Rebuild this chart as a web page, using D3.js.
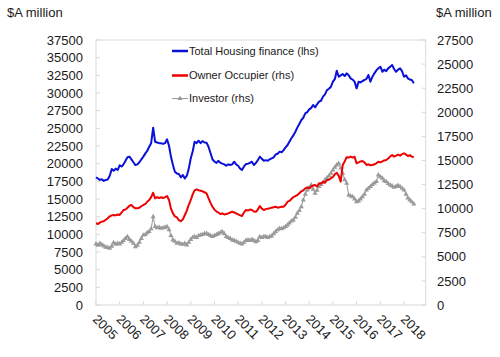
<!DOCTYPE html>
<html><head><meta charset="utf-8">
<script src="https://cdn.jsdelivr.net/npm/d3@7"></script>
<style>
html,body{margin:0;padding:0;background:#fff;}
svg{display:block;font-family:"Liberation Sans",Arial,sans-serif;}
</style></head>
<body><svg id="c" width="500" height="357"></svg>
<script>
// Monthly data, Jan 2005 onward ($A million)
const startMonth = "2005-01";
const totalHousing = [
18070,17900,17700,17800,17550,17700,17750,18300,19240,19000,19300,19100,
19770,19600,19900,20400,20900,21000,20600,20200,19800,19900,20200,20600,
21000,21460,21800,22400,22900,25090,23100,23000,22900,22880,22800,22900,
23450,22500,21000,19800,18860,18600,18540,18070,18400,17900,18300,19300,
20760,21800,23110,22900,23250,22900,23200,23000,22970,22400,21500,20620,
20300,20100,20400,20140,20000,19900,19700,19900,19810,19900,20280,19900,
19700,19300,19100,19600,19950,20000,20100,20280,19810,20100,20500,20990,
20700,20420,20500,20400,20620,20760,20900,21300,21400,21700,21600,21930,
22300,22640,23100,23600,24000,24520,25100,25600,26180,26500,27120,27300,
27690,27900,28300,27970,28400,28770,28900,29480,29800,30420,30600,30890,
31600,32000,33150,32300,32500,32690,32400,32780,32500,32070,31900,31600,
30660,31600,31500,31700,31840,32000,32550,31600,32300,32780,33200,33500,
33720,33010,33300,33100,33490,33700,33960,33400,33000,33300,33490,33100,
32300,32500,32070,31900,31840,31370];
const ownerOccupier = [
8480,8400,8550,8650,8700,8850,9000,9200,9300,9340,9300,9400,
9340,9600,9860,9900,10100,10300,10380,10150,10030,10050,10100,10250,
10380,10500,10700,10900,11200,11650,11070,11200,11100,11180,11100,11200,
11310,10900,10000,9510,9200,9100,8800,8700,8890,9340,9800,10400,
10900,11500,11900,12000,11900,11860,11800,11700,11590,11100,10600,10200,
9900,9700,9600,9440,9500,9400,9440,9500,9600,9680,9600,9500,
9400,9300,9240,9600,9860,9800,9900,9860,9700,9680,9900,10270,
10000,9860,9950,10000,10030,10100,10150,10200,10100,10150,10200,10200,
10400,10720,10800,11000,11200,11300,11410,11600,11800,11900,12100,12210,
12100,12300,12400,12450,12300,12630,12600,12800,12700,12970,13000,13150,
13300,13590,13730,13400,12800,14530,14900,15330,15300,15400,15300,15390,
14700,14800,14900,14940,14800,14530,14600,14500,14530,14600,14700,14870,
14800,14900,15000,15050,15200,15400,15570,15400,15500,15600,15500,15650,
15740,15600,15460,15550,15400,15330];
const investor = [
6330,6200,6400,6250,6120,6000,5950,5880,6100,6470,6300,6400,
6330,6500,6700,6900,7090,6800,6600,6400,6050,6200,6500,6900,
7260,7300,7500,7610,7900,9160,8130,8000,8050,7960,8000,8050,
8130,7800,7200,6750,6600,6400,6450,6330,6300,6400,6230,6500,
6800,7020,7100,7000,7200,7260,7300,7400,7440,7300,7200,7100,
7200,7300,7400,7500,7610,7400,7100,7000,6900,6750,6700,6600,
6500,6400,6330,6500,6700,6750,6700,6800,6700,6570,6700,7090,
7000,7100,7090,7000,7100,7160,7400,7600,7800,7960,7900,8000,
8130,8300,8500,8700,8820,9100,9510,9800,10200,10900,11500,11930,
12200,12450,12000,11590,11900,12280,12500,12700,12970,13200,13400,13670,
14000,14300,14530,14700,14200,13670,13000,12630,11410,11300,11240,11000,
10720,10800,11000,11240,11500,11930,12100,12280,12500,12650,12800,13490,
13300,13150,12900,12800,12600,12450,12350,12210,12300,12400,12280,12100,
11930,11500,11100,10900,10700,10480];
const yearLabels = ["2005","2006","2007","2008","2009","2010","2011","2012","2013","2014","2015","2016","2017","2018"];
const leftTicks = [0,2500,5000,7500,10000,12500,15000,17500,20000,22500,25000,27500,30000,32500,35000,37500];
const rightTicks = [0,2500,5000,7500,10000,12500,15000,17500,20000,22500,25000,27500];
const legendLabels = ["Total Housing finance (lhs)","Owner Occupier (rhs)","Investor (rhs)"];
const axisTitle = "$A million";

const svg = d3.select("#c");
const L = 96, R = 425.7, T = 40, B = 305;
const parse = d3.timeParse("%Y-%m");
const t0 = parse(startMonth);
const dates = totalHousing.map((_, i) => d3.timeMonth.offset(t0, i));
const x = d3.scaleTime().domain([t0, new Date(2018, 11, 1)]).range([L, R]);
const yL = d3.scaleLinear().domain([0, 37500]).range([B, T]);
const yR = d3.scaleLinear().domain([0, 27500]).range([B, T]);
const frame = "#d9d9d9";
const textCol = "#1a1a1a";

svg.append("rect").attr("x", L).attr("y", T).attr("width", R - L).attr("height", B - T)
  .attr("fill", "none").attr("stroke", frame).attr("stroke-width", 1);

// left axis
const gl = svg.append("g");
leftTicks.forEach(v => {
  gl.append("line").attr("x1", L).attr("x2", L + 4).attr("y1", yL(v)).attr("y2", yL(v)).attr("stroke", frame);
  gl.append("text").attr("x", 83).attr("y", yL(v)).attr("dy", "0.36em").attr("text-anchor", "end")
    .attr("font-size", 13).attr("fill", textCol).text(v);
});
// right axis
const gr = svg.append("g");
rightTicks.forEach(v => {
  gr.append("line").attr("x1", R - 4).attr("x2", R).attr("y1", yR(v)).attr("y2", yR(v)).attr("stroke", frame);
  gr.append("text").attr("x", 437).attr("y", yR(v)).attr("dy", "0.36em").attr("text-anchor", "start")
    .attr("font-size", 13).attr("fill", textCol).text(v);
});
// x axis
const gx = svg.append("g");
yearLabels.forEach(y => {
  const xx = x(new Date(+y, 0, 1));
  gx.append("line").attr("x1", xx).attr("x2", xx).attr("y1", B).attr("y2", B - 4).attr("stroke", frame);
  gx.append("text").attr("transform", `translate(${xx - 4},${B + 15}) rotate(45)`)
    .attr("font-size", 13).attr("fill", textCol).text(y);
});

svg.append("text").attr("x", 7).attr("y", 17).attr("font-size", 13).attr("fill", textCol).text(axisTitle);
svg.append("text").attr("x", 436).attr("y", 17).attr("font-size", 13).attr("fill", textCol).text(axisTitle);

const lineL = d3.line().x((d, i) => x(dates[i])).y(d => yL(d));
const lineR = d3.line().x((d, i) => x(dates[i])).y(d => yR(d));
const grey = "#9a9a9a";
svg.append("path").attr("d", lineR(investor)).attr("fill", "none").attr("stroke", grey).attr("stroke-width", 1);
const tri = d3.symbol().type(d3.symbolTriangle).size(11);
svg.append("g").selectAll("path").data(investor).join("path")
  .attr("transform", (d, i) => `translate(${x(dates[i])},${yR(d)})`).attr("d", tri).attr("fill", grey);
svg.append("path").attr("d", lineR(ownerOccupier)).attr("fill", "none").attr("stroke", "#ee0000").attr("stroke-width", 2).attr("stroke-linejoin", "round");
svg.append("path").attr("d", lineL(totalHousing)).attr("fill", "none").attr("stroke", "#0a10d8").attr("stroke-width", 2).attr("stroke-linejoin", "round");

// legend
const lg = svg.append("g");
const legCols = ["#0a10d8", "#ee0000", grey];
const legY = [51, 75.5, 98.5];
legendLabels.forEach((lab, i) => {
  lg.append("line").attr("x1", 172).attr("x2", 188).attr("y1", legY[i]).attr("y2", legY[i])
    .attr("stroke", legCols[i]).attr("stroke-width", i < 2 ? 2.5 : 1);
  if (i === 2) lg.append("path").attr("transform", `translate(180,${legY[i]})`).attr("d", tri).attr("fill", grey);
  lg.append("text").attr("x", 189).attr("y", legY[i]).attr("dy", "0.36em").attr("font-size", 11).attr("fill", textCol).text(lab);
});
</script></body></html>
